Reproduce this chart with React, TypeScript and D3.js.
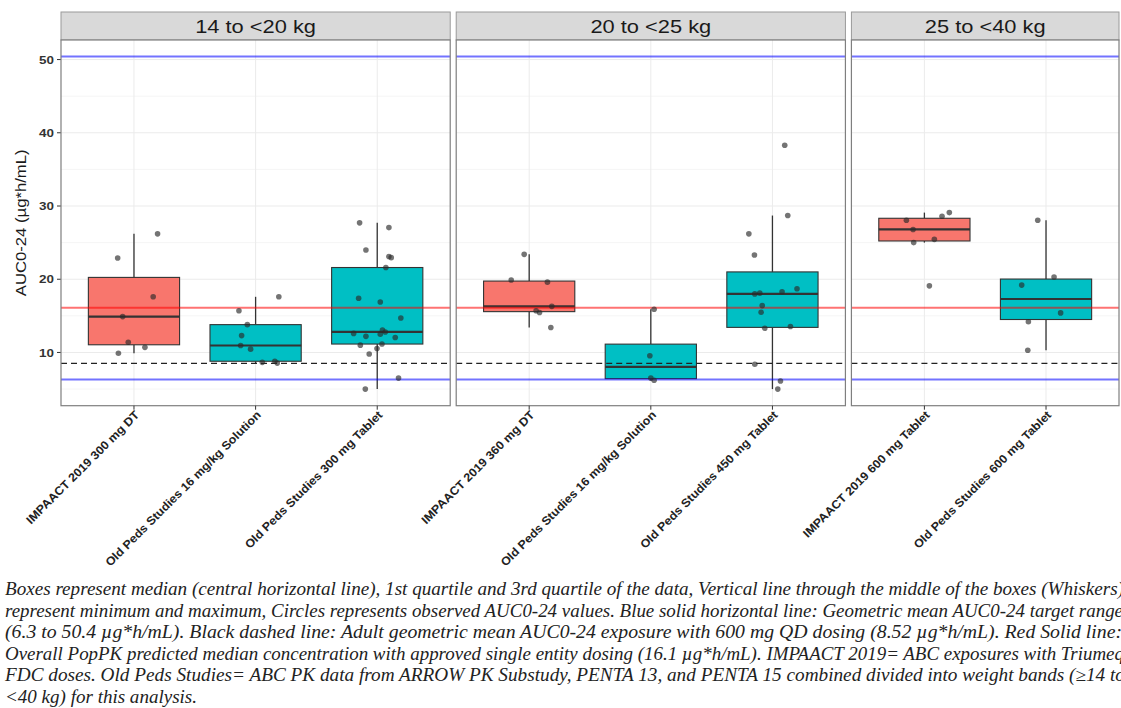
import React from 'react';
import * as d3 from 'd3';

const weightBands = ['14 to <20 kg', '20 to <25 kg', '25 to <40 kg'];
const groupBand = [0, 0, 0, 1, 1, 1, 2, 2];
const groupLabels = [
  'IMPAACT 2019 300 mg DT',
  'Old Peds Studies 16 mg/kg Solution',
  'Old Peds Studies 300 mg Tablet',
  'IMPAACT 2019 360 mg DT',
  'Old Peds Studies 16 mg/kg Solution',
  'Old Peds Studies 450 mg Tablet',
  'IMPAACT 2019 600 mg Tablet',
  'Old Peds Studies 600 mg Tablet',
];
const groupSource = [
  'IMPAACT 2019', 'Old Peds Studies', 'Old Peds Studies',
  'IMPAACT 2019', 'Old Peds Studies', 'Old Peds Studies',
  'IMPAACT 2019', 'Old Peds Studies',
];

// observed AUC0-24 values (ug*h/mL), one list per group
const aucValues = [
  [26.2, 22.9, 17.6, 14.9, 11.4, 10.7, 9.9],
  [17.6, 15.7, 13.8, 12.3, 10.95, 10.45, 8.8, 8.65, 8.55],
  [27.7, 27.05, 24.0, 23.1, 22.95, 21.6, 17.4, 16.9, 14.7, 13.05, 12.8, 12.6, 12.5, 12.2, 12.05, 11.15, 11.0, 10.55, 9.8, 6.5, 5.0],
  [23.4, 19.9, 19.6, 16.3, 15.7, 15.45, 13.4],
  [15.9, 9.55, 6.5, 6.2],
  [38.3, 28.7, 26.2, 23.3, 18.7, 18.3, 18.1, 18.0, 16.4, 15.5, 13.55, 13.3, 8.4, 6.1, 5.0],
  [29.1, 28.6, 28.05, 26.8, 25.45, 25.0, 19.1],
  [28.05, 20.3, 19.2, 15.4, 14.2, 10.3],
];
// horizontal jitter of each point, as a fraction of the category step
const jitterX = [
  [0.194, -0.134, 0.158, -0.093, -0.047, 0.09, -0.128],
  [0.191, -0.137, -0.068, -0.115, -0.123, -0.041, 0.158, 0.055, 0.178],
  [-0.145, 0.096, -0.093, 0.096, 0.115, 0.071, -0.153, 0.025, 0.194, 0.043, 0.066, -0.194, 0.025, -0.093, 0.148, 0.039, -0.139, -0.002, -0.066, 0.175, -0.098],
  [-0.041, -0.148, 0.15, 0.186, 0.057, 0.085, 0.178],
  [0.027, -0.008, 0.0, 0.027],
  [0.101, 0.126, -0.194, -0.148, 0.202, 0.079, -0.104, -0.145, -0.084, -0.093, 0.148, -0.063, -0.145, 0.066, 0.044],
  [0.205, 0.145, -0.148, -0.093, 0.082, -0.088, 0.041],
  [-0.068, 0.066, -0.2, 0.12, -0.145, -0.15],
];

const targetRange = [6.3, 50.4];
const adultMean = 8.52;
const popPkMedian = 16.1;
const yTicks = [10, 20, 30, 40, 50];
const yMinor = [5, 15, 25, 35, 45];

const captionLines = [
  'Boxes represent median (central horizontal line), 1st quartile and 3rd quartile of the data, Vertical line through the middle of the boxes (Whiskers)',
  'represent minimum and maximum, Circles represents observed AUC0-24 values. Blue solid horizontal line: Geometric mean AUC0-24 target range',
  '(6.3 to 50.4 \u00b5g*h/mL). Black dashed line: Adult geometric mean AUC0-24 exposure with 600 mg QD dosing (8.52 \u00b5g*h/mL). Red Solid line:',
  'Overall PopPK predicted median concentration with approved single entity dosing (16.1 \u00b5g*h/mL). IMPAACT 2019= ABC exposures with Triumeq',
  'FDC doses. Old Peds Studies= ABC PK data from ARROW PK Substudy, PENTA 13, and PENTA 15 combined divided into weight bands (\u226514 to',
  '<40 kg) for this analysis.',
];
const captionWidths = [1119, 1118, 1117, 1119, 1120, 192];

const W = 1121;
const H = 708;
const plotLeft = 61;
const plotRight = 1119;
const gap = 6;
const stripTop = 12;
const stripBottom = 40;
const plotBottom = 405.7;
const sx = 1.15; // text in the source renders wider than Arial

const color = d3.scaleOrdinal<string, string>()
  .domain(['IMPAACT 2019', 'Old Peds Studies'])
  .range(['#F8766D', '#00BFC4']);

function boxStats(vals: number[]) {
  const s = [...vals].sort(d3.ascending);
  const q1 = d3.quantile(s, 0.25)!;
  const med = d3.quantile(s, 0.5)!;
  const q3 = d3.quantile(s, 0.75)!;
  const iqr = q3 - q1;
  const lo = d3.min(s.filter(v => v >= q1 - 1.5 * iqr))!;
  const hi = d3.max(s.filter(v => v <= q3 + 1.5 * iqr))!;
  return { q1, med, q3, lo, hi };
}

export default function App() {
  const allVals = [...aucValues.flat(), ...targetRange];
  const [vmin, vmax] = d3.extent(allVals) as [number, number];
  const pad = (vmax - vmin) * 0.05;
  const y = d3.scaleLinear().domain([vmin - pad, vmax + pad]).range([plotBottom, stripBottom]);

  const counts = weightBands.map((_, b) => groupBand.filter(g => g === b).length);
  const unit = (plotRight - plotLeft - gap * (weightBands.length - 1)) / d3.sum(counts, n => n + 0.2);

  let cursor = plotLeft;
  const panels = weightBands.map((band, b) => {
    const w = unit * (counts[b] + 0.2);
    const idx = groupBand.map((g, i) => (g === b ? i : -1)).filter(i => i >= 0);
    const x = d3.scalePoint<number>().domain(idx).range([cursor, cursor + w]).padding(0.6);
    const p = { band, x0: cursor, x1: cursor + w, idx, x };
    cursor += w + gap;
    return p;
  });

  const boxW = unit * 0.75;

  return (
    <svg width={W} height={H} style={{ position: 'fixed', left: 0, top: 0, background: '#fff', fontFamily: 'Arial, "Liberation Sans", sans-serif' }}>
      <rect width={W} height={H} fill="#fff" />
      {yTicks.map(t => (
        <g key={t}>
          <line x1={57} x2={plotLeft} y1={y(t)} y2={y(t)} stroke="#333" strokeWidth={1} />
          <text transform={`translate(54,${y(t) + 4.2}) scale(${sx},1)`} textAnchor="end" fontSize={11.7} fontWeight="bold" fill="#333">{t}</text>
        </g>
      ))}
      <text transform={`translate(26,${(stripBottom + plotBottom) / 2}) rotate(-90) scale(${sx},1)`} textAnchor="middle" fontSize={14.5} fill="#1a1a1a">AUC0-24 (µg*h/mL)</text>

      {panels.map(p => (
        <g key={p.band}>
          <rect x={p.x0} y={stripTop} width={p.x1 - p.x0} height={stripBottom - stripTop} fill="#D9D9D9" stroke="#9a9a9a" strokeWidth={1} />
          <text transform={`translate(${(p.x0 + p.x1) / 2},${stripBottom - 7}) scale(${sx},1)`} textAnchor="middle" fontSize={19} fill="#1a1a1a">{p.band}</text>
          <rect x={p.x0} y={stripBottom} width={p.x1 - p.x0} height={plotBottom - stripBottom} fill="#fff" />
          {yMinor.map(t => (
            <line key={'m' + t} x1={p.x0} x2={p.x1} y1={y(t)} y2={y(t)} stroke="#F2F2F2" strokeWidth={0.8} />
          ))}
          {yTicks.map(t => (
            <line key={'g' + t} x1={p.x0} x2={p.x1} y1={y(t)} y2={y(t)} stroke="#EBEBEB" strokeWidth={1} />
          ))}
          {p.idx.map(i => (
            <line key={'v' + i} x1={p.x(i)} x2={p.x(i)} y1={stripBottom} y2={plotBottom} stroke="#EBEBEB" strokeWidth={1} />
          ))}
          {p.idx.map(i => {
            const s = boxStats(aucValues[i]);
            const cx = p.x(i)!;
            return (
              <g key={'b' + i}>
                <line x1={cx} x2={cx} y1={y(s.hi)} y2={y(s.q3)} stroke="#333" strokeWidth={1.3} />
                <line x1={cx} x2={cx} y1={y(s.q1)} y2={y(s.lo)} stroke="#333" strokeWidth={1.3} />
                <rect x={cx - boxW / 2} y={y(s.q3)} width={boxW} height={y(s.q1) - y(s.q3)} fill={color(groupSource[i])} stroke="#333" strokeWidth={1.1} />
                <line x1={cx - boxW / 2} x2={cx + boxW / 2} y1={y(s.med)} y2={y(s.med)} stroke="#333" strokeWidth={2.2} />
              </g>
            );
          })}
          {targetRange.map(v => (
            <line key={'t' + v} x1={p.x0} x2={p.x1} y1={y(v)} y2={y(v)} stroke="#0000FF" strokeOpacity={0.55} strokeWidth={2} />
          ))}
          <line x1={p.x0} x2={p.x1} y1={y(popPkMedian)} y2={y(popPkMedian)} stroke="#FF0000" strokeOpacity={0.55} strokeWidth={2} />
          <line x1={p.x0} x2={p.x1} y1={y(adultMean)} y2={y(adultMean)} stroke="#222" strokeWidth={1.2} strokeDasharray="6,4" />
          {p.idx.map(i => aucValues[i].map((v, k) => (
            <circle key={`p${i}-${k}`} cx={p.x(i)! + jitterX[i][k] * p.x.step()} cy={y(v)} r={2.8} fill="#2a2a2a" fillOpacity={0.65} />
          )))}
          <rect x={p.x0} y={stripBottom} width={p.x1 - p.x0} height={plotBottom - stripBottom} fill="none" stroke="#7f7f7f" strokeWidth={1.2} />
          {p.idx.map(i => (
            <g key={'x' + i}>
              <line x1={p.x(i)} x2={p.x(i)} y1={plotBottom} y2={plotBottom + 4} stroke="#333" strokeWidth={1} />
              <text transform={`translate(${p.x(i)! + 6},${plotBottom + 10}) rotate(-45) scale(1.07,1)`} textAnchor="end" fontSize={11.7} fontWeight="bold" fill="#222">{groupLabels[i]}</text>
            </g>
          ))}
        </g>
      ))}

      {captionLines.map((line, k) => (
        <text key={k} x={5} y={595 + k * 21.6} fontFamily='"Liberation Serif", serif' fontStyle="italic" fontSize={18} fill="#222" textLength={captionWidths[k]} lengthAdjust="spacingAndGlyphs">{line}</text>
      ))}
    </svg>
  );
}
